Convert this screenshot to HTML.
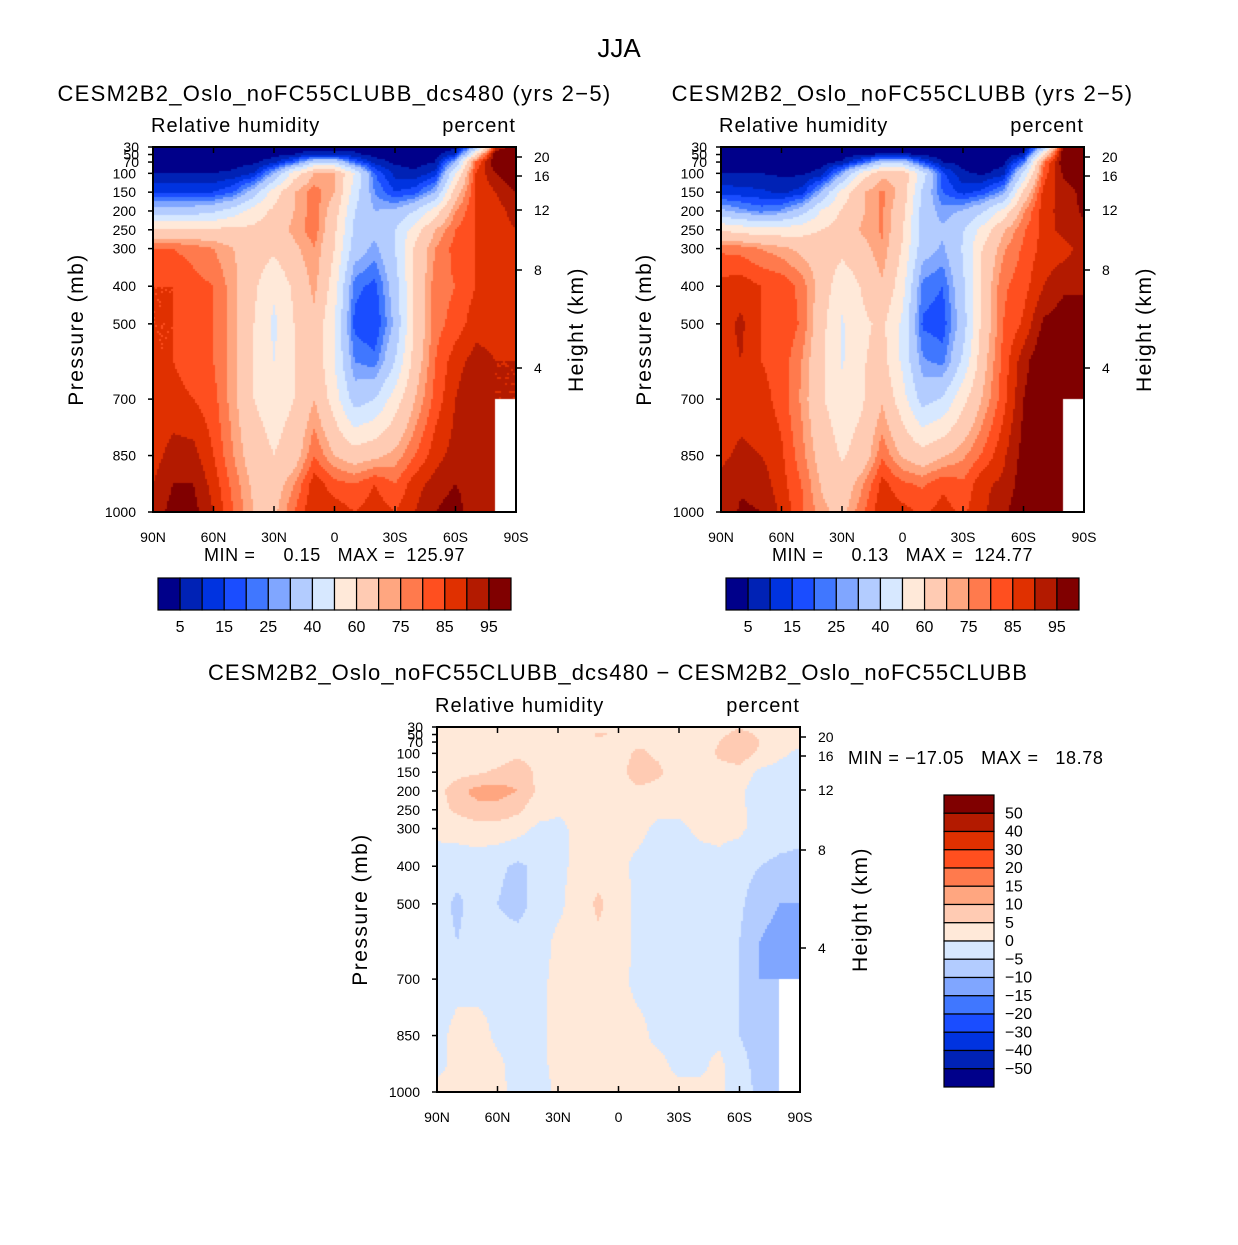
<!DOCTYPE html>
<html><head><meta charset="utf-8"><style>
body{margin:0;background:#fff;width:1238px;height:1240px;overflow:hidden;font-family:"Liberation Sans",sans-serif}
svg text{font-family:"Liberation Sans",sans-serif;fill:#000}
</style></head><body>
<svg id="fig" width="1238" height="1240" xmlns="http://www.w3.org/2000/svg">
<text x="619" y="57" font-size="26" text-anchor="middle">JJA</text>
</svg>
<script>
const lats=[90,80,70,60,50,40,30,20,10,0,-10,-20,-30,-40,-50,-60,-70,-80,-90];
const levs=[30,50,70,100,150,200,250,300,400,500,600,700,850,925,1000];
const colors=["#00008a","#0022b5","#0033e0","#1a4dff","#4077ff","#80a6ff","#b3ccff","#d7e8ff","#ffe9d9","#ffcbb3","#ffa680","#ff7a4d","#ff4f1f","#e03000","#b31a00","#800000"];
const rhLevels=[5,10,15,20,25,30,40,50,60,70,75,80,85,90,95];
const rhLabels=["5","15","25","40","60","75","85","95"];
const diffLevels=[-50,-40,-30,-20,-15,-10,-5,0,5,10,15,20,30,40,50];
const diffLabels=["50","40","30","20","15","10","5","0","\u22125","\u221210","\u221215","\u221220","\u221230","\u221240","\u221250"];
const pTicks=[30,50,70,100,150,200,250,300,400,500,700,850,1000];
const latTicks=[90,60,30,0,-30,-60,-90];
const latTickLabels=["90N","60N","30N","0","30S","60S","90S"];
const kmTicks=[[20,157],[16,176],[12,210],[8,270],[4,368]];
const N=null;
const rh1=[
[2,2,2,2,2,2,2,2,3,3,3,2,2,2,2,3,30,90,100],
[2,2,2,2,2,2,3,5,8,8,6,3,2,2,3,10,60,100,100],
[3,3,3,3,3,4,8,20,40,40,20,8,4,3,5,30,80,100,100],
[5,5,5,5,6,10,30,55,70,70,50,20,8,6,12,50,85,95,100],
[15,15,15,15,20,35,55,70,78,70,45,25,15,18,30,65,85,90,95],
[35,35,35,38,45,55,62,70,78,65,40,30,32,40,55,75,85,88,92],
[62,62,62,62,62,62,65,72,78,62,38,32,40,55,70,80,85,88,90],
[80,80,78,75,70,65,62,68,75,60,35,28,40,62,75,82,85,85,88],
[85,85,82,80,72,62,52,62,72,55,22,18,35,62,78,80,85,88,88],
[85,85,82,80,72,60,48,60,68,50,18,15,32,62,78,82,88,88,88],
[85,85,82,80,72,60,50,60,68,50,25,22,40,65,80,88,92,90,90],
[85,87,85,82,72,60,55,60,70,55,35,40,55,70,82,90,95,N,N],
[88,92,92,85,75,65,60,65,80,70,65,68,72,80,88,92,92,N,N],
[90,95,95,88,78,68,65,75,88,82,80,85,80,88,92,95,92,N,N],
[92,97,97,90,80,70,68,80,90,88,85,88,85,90,95,98,90,N,N]];
const rh2=[
[2,2,2,2,2,2,2,2,2,2,2,2,2,2,2,2,30,100,100],
[2,2,2,2,2,2,2,4,6,6,4,2,2,2,2,6,60,100,100],
[3,3,3,3,3,3,6,18,36,36,16,5,3,2,3,22,78,100,100],
[5,5,5,4,4,7,28,54,68,67,45,16,6,4,8,42,82,96,100],
[13,12,11,9,12,31,54,69,76,67,38,20,13,17,27,62,87,92,97],
[32,27,23,26,35,51,61,69,76,63,36,27,31,39,53,74,88,92,96],
[59,56,54,54,56,60,64,71,76,61,36,31,39,54,69,79,87,92,94],
[79,78,75,72,68,66,63,67,74,59,34,29,41,61,74,81,87,88,92],
[87,88,85,84,78,66,53,61,69,54,23,20,38,64,79,83,90,94,94],
[88,91,85,85,79,63,49,58,62,48,19,17,35,64,80,86,96,98,98],
[88,90,85,83,75,62,49,59,64,48,26,23,42,67,82,93,100,100,100],
[87,88,87,83,74,61,54,59,69,54,36,41,57,71,83,95,100,N,N],
[89,91,90,86,77,66,59,64,79,69,64,69,74,81,89,97,100,N,N],
[91,94,93,87,80,69,64,74,87,81,79,84,81,89,91,98,99,N,N],
[91,96,95,89,81,72,67,79,89,87,84,87,84,89,94,99,96,N,N]];
const diff=[
[1,1,1,1,1,1,1,1,3,3,3,2,1,1,2,4,2,1,1],
[1,1,1,1,1,1,2,2,6,4,3,2,1,1,3,8,4,1,1],
[1,1,1,1,1,2,2,2,3,3,4,4,2,2,5,10,5,2,1],
[1,1,1,2,4,3,2,1,2,3,6,4,2,2,6,8,4,1,-1],
[2,3,4,6,8,4,1,1,2,3,8,6,2,1,3,3,-1,-2,-3],
[3,8,12,12,10,4,1,1,2,2,4,3,1,1,2,1,-3,-4,-4],
[3,6,8,8,6,2,0.5,1,2,1,2,1,1,1,1,1,-2,-4,-4],
[1,2,3,3,2,-1,-1,1,1,1,1,-1,-1,1,1,1,-2,-3,-4],
[-2,-3,-3,-4,-6,-4,-1,1,3,1,-1,-2,-3,-2,-1,-3,-5,-6,-6],
[-3,-6,-3,-5,-7,-3,-1,2,6,2,-1,-2,-3,-2,-2,-4,-8,-10,-10],
[-3,-5,-3,-3,-3,-2,1,1,4,2,-1,-1,-2,-2,-2,-5,-10,-12,-12],
[-2,-1,-2,-1,-2,-1,1,1,1,1,-1,-1,-2,-1,-1,-5,-10,N,N],
[-1,1,2,-1,-2,-1,1,1,1,1,1,-1,-2,-1,-1,-5,-8,N,N],
[-1,1,2,1,-2,-1,1,1,1,1,1,1,-1,-1,1,-3,-7,N,N],
[1,1,2,1,-1,-2,1,1,1,1,1,1,1,1,1,-3,-6,N,N]];

const NS="http://www.w3.org/2000/svg";
const fig=document.getElementById('fig');
function mk(tag,attrs,parent,text){const e=document.createElementNS(NS,tag);for(const k in attrs)e.setAttribute(k,attrs[k]);if(text!==undefined)e.textContent=text;(parent||fig).appendChild(e);return e;}
function interp(grid,lat,p){
  let li=(90-lat)/10; li=Math.max(0,Math.min(18,li));
  let i0=Math.min(17,Math.floor(li)), fx=li-i0;
  let j0=0; while(j0<levs.length-2&&levs[j0+1]<p)j0++;
  let fy=(p-levs[j0])/(levs[j0+1]-levs[j0]); fy=Math.max(0,Math.min(1,fy));
  const a=grid[j0][i0],b=grid[j0][i0+1],c=grid[j0+1][i0],d=grid[j0+1][i0+1];
  const hasNull=[a,b,c,d].some(v=>v===null);
  if(hasNull&&p>=700&&lat<-80)return null;
  const vals=[[a,(1-fx)*(1-fy)],[b,fx*(1-fy)],[c,(1-fx)*fy],[d,fx*fy]];
  let s=0,w=0;for(const [v,wt] of vals){if(v!==null){s+=v*wt;w+=wt;}}
  return w>0?s/w:null;
}
function colorFor(v,levels){let k=0;while(k<levels.length&&v>=levels[k])k++;return colors[k];}
function panel(x0,y0,grid,levels,name,title,subtitle){
  const W=363,H=365;
  const xs=lat=>x0+(90-lat)/180*W;
  const ys=p=>y0+(p-30)/970*H;
  const g=mk('g',{});
  const fo=mk('foreignObject',{x:x0,y:y0,width:W,height:H},g);
  const cv=document.createElement('canvas');cv.width=W;cv.height=H;
  
  
  fo.appendChild(cv);
  const ctx=cv.getContext('2d');
  const step=2;
  for(let py=0;py<H;py+=step){
    const p=30+(py+step/2)/H*970;
    for(let px=0;px<W;px+=step){
      const lat=90-(px+step/2)/W*180;
      const v=interp(grid,lat,p);
      ctx.fillStyle=v===null?'#ffffff':colorFor(v,levels);
      ctx.fillRect(px,py,step,step);
    }
  }
  mk('rect',{x:x0,y:y0,width:W,height:H,fill:'none',stroke:'#000','stroke-width':2,},g);
  pTicks.forEach(p=>{const y=ys(p);
    mk('line',{x1:x0-5,x2:x0,y1:y,y2:y,stroke:'#000','stroke-width':1.5},g);
    mk('text',{x:x0-17+(p<100?3:0),y:y+5,'font-size':14,'text-anchor':'end',},g,String(p));});
  latTicks.forEach((l,i)=>{const x=xs(l);
    mk('line',{x1:x,x2:x,y1:y0+H,y2:y0+H-6,stroke:'#000','stroke-width':1.5},g);
    mk('line',{x1:x,x2:x,y1:y0,y2:y0+6,stroke:'#000','stroke-width':1.5},g);
    mk('text',{x:x,y:y0+H+30,'font-size':14,'text-anchor':'middle',},g,latTickLabels[i]);});
  kmTicks.forEach(([k,yy])=>{const y=y0+(yy-147);
    mk('line',{x1:x0+W,x2:x0+W+6,y1:y,y2:y,stroke:'#000','stroke-width':1.5},g);
    mk('text',{x:x0+W+18,y:y+5,'font-size':14,},g,String(k));});
  mk('text',{x:0,y:0,'font-size':21,'text-anchor':'middle','letter-spacing':'1.5',transform:`translate(${x0-70},${y0+H/2}) rotate(-90)`,},g,'Pressure (mb)');
  mk('text',{x:0,y:0,'font-size':21,'text-anchor':'middle','letter-spacing':'1.5',transform:`translate(${x0+W+67},${y0+H/2}) rotate(-90)`,},g,'Height (km)');
  mk('text',{x:x0-2,y:y0-15,'font-size':20,'letter-spacing':'1',},g,'Relative humidity');
  mk('text',{x:x0+W,y:y0-15,'font-size':20,'text-anchor':'end','letter-spacing':'1',},g,'percent');
  if(title)mk('text',{x:x0+W/2,y:y0-46,'font-size':22,'text-anchor':'middle','letter-spacing':'1.3',},g,title);
  if(subtitle)mk('text',{x:x0+W/2,y:y0+H+49,'font-size':18,'text-anchor':'middle','letter-spacing':'0.6','style':'white-space:pre'},g,subtitle);
}
function hbar(x0,y0,name){
  const g=mk('g',{});
  const w=353/16;
  colors.forEach((c,i)=>mk('rect',{x:x0+i*w,y:y0,width:w,height:32,fill:c,stroke:'#000','stroke-width':1.2,},g));
  rhLabels.forEach((l,i)=>mk('text',{x:x0+w*(2*i+1),y:y0+54,'font-size':16,'text-anchor':'middle',},g,l));
}
function vbar(x0,y0,name){
  const g=mk('g',{});
  const h=292/16;
  colors.slice().reverse().forEach((c,i)=>mk('rect',{x:x0,y:y0+i*h,width:50,height:h,fill:c,stroke:'#000','stroke-width':1.2,},g));
  diffLabels.forEach((l,i)=>mk('text',{x:x0+61,y:y0+h*(i+1)+5,'font-size':16,},g,l));
}
panel(153,147,rh1,rhLevels,'panel-dcs480','CESM2B2_Oslo_noFC55CLUBB_dcs480 (yrs 2\u22125)','MIN =     0.15   MAX =  125.97');
panel(721,147,rh2,rhLevels,'panel-control','CESM2B2_Oslo_noFC55CLUBB (yrs 2\u22125)','MIN =     0.13   MAX =  124.77');
panel(437,727,diff,diffLevels,'panel-difference',null,null);
mk('text',{x:618,y:680,'font-size':22,'text-anchor':'middle','letter-spacing':'1.1',},fig,'CESM2B2_Oslo_noFC55CLUBB_dcs480 \u2212 CESM2B2_Oslo_noFC55CLUBB');
mk('text',{x:848,y:764,'font-size':18,'letter-spacing':'0.6','style':'white-space:pre'},fig,'MIN = \u221217.05   MAX =   18.78');
hbar(158,578,'colorbar-dcs480');
hbar(726,578,'colorbar-control');
vbar(944,795,'colorbar-difference');
</script>
</body></html>
